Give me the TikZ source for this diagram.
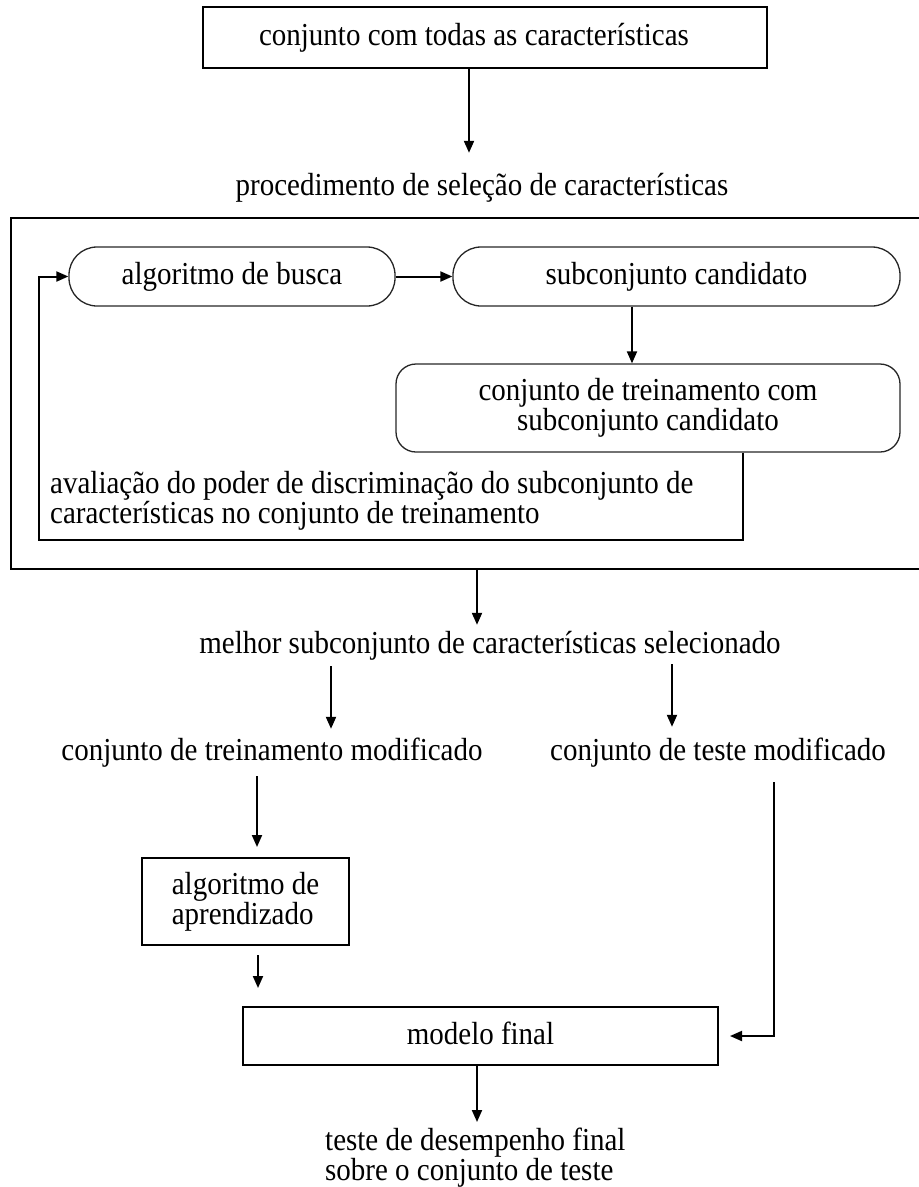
\documentclass[tikz,border=0pt]{standalone}
\usepackage{fontspec}
\setmainfont{Liberation Serif}[FakeStretch=0.906]
\usetikzlibrary{arrows.meta}
\begin{document}
\begin{tikzpicture}[x=1pt,y=-1pt,
  txt/.style={font=\fontsize{32}{28}\selectfont, inner sep=0pt},
  one/.style={text height=22pt, text depth=6pt},
  sqbox/.style={draw, line width=2pt, inner sep=0pt},
  rbox/.style={draw=black!85, line width=1.3pt, inner sep=0pt},
  arr/.style={line width=2pt, -{Triangle[length=12pt,width=10pt]}},
]
\useasboundingbox (0,0) rectangle (919,1187);
\node[txt, one, sqbox, minimum width=564pt, minimum height=61pt] (top) at (485,37.5) {conjunto com todas as características\hspace*{22pt}};
\node[txt, one, anchor=base] (proc) at (482,195) {procedimento de seleção de características};
\node[sqbox, anchor=north west, minimum width=930pt, minimum height=351pt] (sel) at (10,217) {};
\node[txt, one, rbox, rounded corners=28pt, minimum width=326pt, minimum height=59pt] (busca) at (232,276.5) {algoritmo de busca};
\node[txt, one, rbox, rounded corners=28pt, minimum width=447pt, minimum height=59pt] (sub) at (676.5,276.5) {subconjunto candidato};
\node[txt, rbox, rounded corners=20pt, minimum width=504pt, minimum height=88pt, align=center, font=\fontsize{32}{29}\selectfont] (trein) at (648,408) {conjunto de treinamento com\\subconjunto candidato};
\node[txt, anchor=north west, align=left, font=\fontsize{32}{29}\selectfont] (aval) at (50,471) {avaliação do poder de discriminação do subconjunto de\\características no conjunto de treinamento};
\node[txt, one, anchor=base] (melhor) at (490,653) {melhor subconjunto de características selecionado};
\node[txt, one, anchor=base] (tmod) at (272,760) {conjunto de treinamento modificado};
\node[txt, one, anchor=base] (temod) at (718,760) {conjunto de teste modificado};
\node[txt, sqbox, minimum width=207pt, minimum height=87pt, align=left, font=\fontsize{32}{24}\selectfont] (apr) at (245.5,901.5) {algoritmo de\\aprendizado};
\node[txt, one, sqbox, minimum width=475pt, minimum height=58pt] (modelo) at (480.5,1036) {modelo final};
\node[txt, anchor=north west, align=left, font=\fontsize{32}{23}\selectfont] (final) at (325,1128) {teste de desempenho final\\sobre o conjunto de teste};

\draw[arr, shorten >=20pt] ([xshift=-16pt]top.south) -- ([xshift=-16pt]top.south |- proc.north);
\draw[arr] (busca.east) -- (sub.west);
\draw[arr] ([xshift=-44.5pt]sub.south) -- ([xshift=-44.5pt]sub.south |- trein.north);
\draw[arr] ([xshift=95pt]trein.south) -- ++(0,87) -| ([xshift=-29pt]busca.west) -- (busca.west);
\draw[arr, shorten >=6pt] ([xshift=1pt]sel.south) -- ([xshift=1pt]sel.south |- melhor.north);
\draw[arr, shorten <=7pt, shorten >=9pt] ([xshift=-159pt]melhor.south) -- ([xshift=-159pt]melhor.south |- tmod.north);
\draw[arr, shorten <=5pt, shorten >=11pt] ([xshift=182pt]melhor.south) -- ([xshift=182pt]melhor.south |- temod.north);
\draw[arr, shorten <=10pt, shorten >=10pt] ([xshift=-15pt]tmod.south) -- ([xshift=-15pt]tmod.south |- apr.north);
\draw[arr, shorten <=9pt, shorten >=18pt] ([xshift=12.5pt]apr.south) -- ([xshift=12.5pt]apr.south |- modelo.north);
\draw[arr, shorten <=16pt, shorten >=11pt] ([xshift=56pt]temod.south) |- (modelo.east);
\draw[arr, shorten >=6pt] ([xshift=-3.5pt]modelo.south) -- ([xshift=-3.5pt]modelo.south |- final.north);
\end{tikzpicture}
\end{document}
